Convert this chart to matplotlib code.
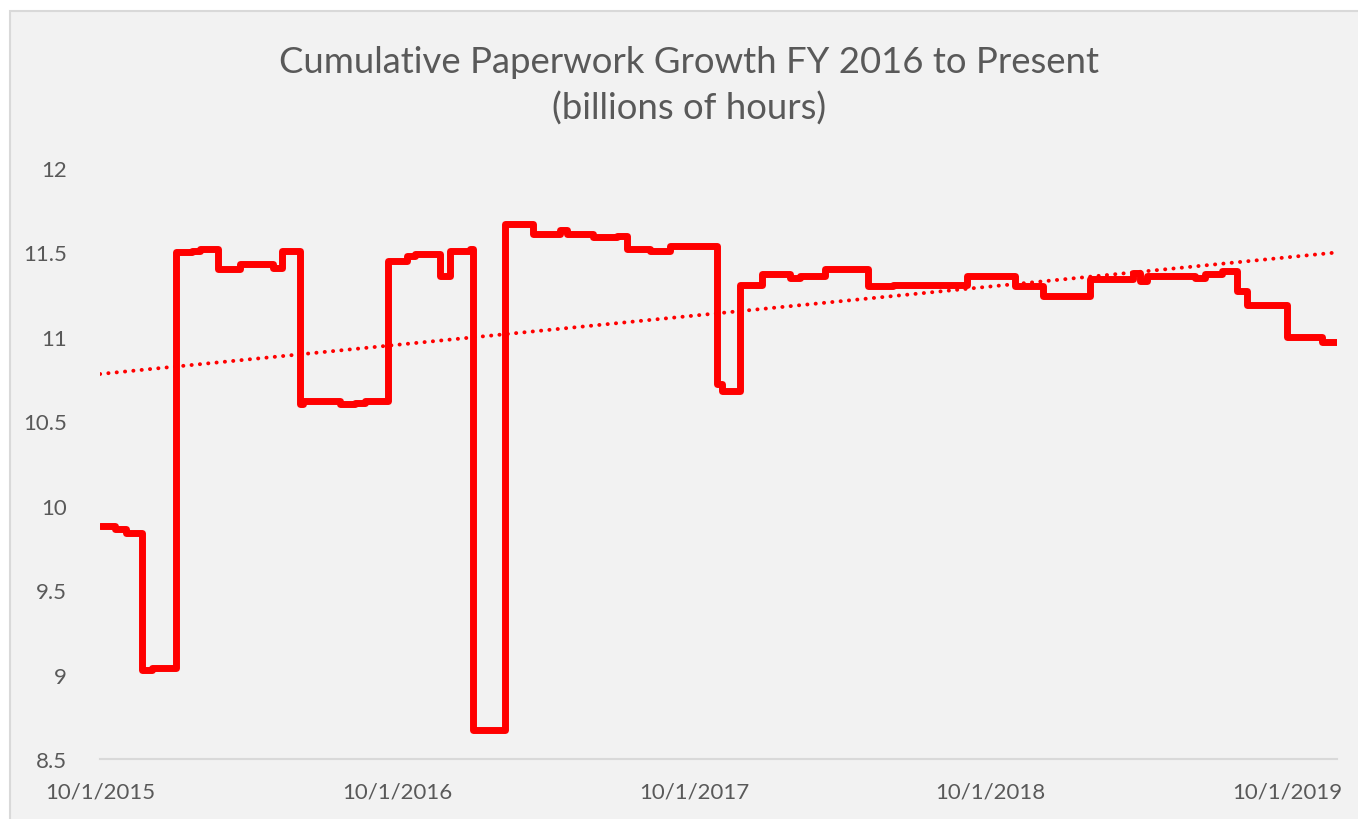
import matplotlib
matplotlib.use("Agg")
import matplotlib.pyplot as plt
import matplotlib.dates as mdates
import matplotlib.patches as mpatches
import numpy as np
import pandas as pd

plt.rcParams['font.family'] = ['Lato', 'DejaVu Sans']

# ---- data (step changes: date -> value, billions of hours) ----
change_dates = [
    "2015-10-01", "2015-10-19", "2015-11-02", "2015-11-22", "2015-12-04",
    "2016-01-03", "2016-01-22", "2016-02-01", "2016-02-23", "2016-03-21",
    "2016-05-01", "2016-05-12", "2016-06-03", "2016-06-07", "2016-07-22",
    "2016-08-10", "2016-08-22", "2016-09-19", "2016-10-13", "2016-10-23",
    "2016-11-22", "2016-12-05", "2016-12-29", "2017-01-02", "2017-02-10",
    "2017-03-17", "2017-04-19", "2017-04-28", "2017-05-30", "2017-06-28",
    "2017-07-10", "2017-08-08", "2017-09-01", "2017-10-29", "2017-11-04",
    "2017-11-26", "2017-12-23", "2018-01-27", "2018-02-08", "2018-03-11",
    "2018-05-03", "2018-06-03", "2018-09-02", "2018-10-31", "2018-12-04",
    "2019-01-31", "2019-03-25", "2019-04-03", "2019-04-11", "2019-06-09",
    "2019-06-22", "2019-07-12", "2019-07-31", "2019-08-12", "2019-09-30",
    "2019-11-12", "2019-12-01",
]
change_values = [
    9.88, 9.86, 9.84, 9.03, 9.04,
    11.50, 11.51, 11.52, 11.40, 11.43,
    11.41, 11.51, 10.60, 10.62, 10.60,
    10.61, 10.62, 11.45, 11.48, 11.49,
    11.36, 11.51, 11.52, 8.67, 11.67,
    11.61, 11.63, 11.61, 11.59, 11.60,
    11.52, 11.51, 11.54, 10.72, 10.68,
    11.31, 11.37, 11.35, 11.36, 11.40,
    11.30, 11.31, 11.36, 11.30, 11.24,
    11.34, 11.38, 11.33, 11.36, 11.35,
    11.37, 11.39, 11.27, 11.19, 11.00,
    10.97, 10.97,
]
# linear trend line
trend_dates = ["2015-10-01", "2019-12-01"]
trend_values = [10.78, 11.50]

y_ticks = [8.5, 9, 9.5, 10, 10.5, 11, 11.5, 12]
y_tick_labels = ["8.5", "9", "9.5", "10", "10.5", "11", "11.5", "12"]
x_tick_dates = ["2015-10-01", "2016-10-01", "2017-10-01", "2018-10-01", "2019-10-01"]
x_tick_labels = ["10/1/2015", "10/1/2016", "10/1/2017", "10/1/2018", "10/1/2019"]

title_line1 = "Cumulative Paperwork Growth FY 2016 to Present"
title_line2 = "(billions of hours)"

# ---- figure ----
W, H = 1358, 820
fig = plt.figure(figsize=(W / 100, H / 100), dpi=100, facecolor="white")

# chart area background with light border
bg = mpatches.Rectangle((10 / W, -0.05), 1.1, 1 - 12 / H + 0.05,
                        transform=fig.transFigure, facecolor="#f2f2f2",
                        edgecolor="#d9d9d9", linewidth=1.5, zorder=-10)
fig.patches.append(bg)

ax = fig.add_axes([100 / W, 1 - 760 / H, (1337 - 100) / W, (760 - 169) / H])
ax.set_facecolor("none")
ax.set_zorder(5)

d = pd.to_datetime(change_dates)
ax.plot(d, change_values, drawstyle="steps-post", color="#ff0000",
        linewidth=5.0, solid_joinstyle="round", solid_capstyle="round", zorder=3)

td = pd.to_datetime(trend_dates)
ax.plot(td, trend_values, color="#ff0000", linewidth=2.8,
        linestyle=(0, (0.05, 2.1)), dash_capstyle="round", zorder=2)

ax.set_ylim(8.5, 12)
ax.set_xlim(pd.Timestamp("2015-10-01"), pd.Timestamp("2019-12-01"))

ax.set_yticks(y_ticks)
ax.set_yticklabels(y_tick_labels)
ax.set_xticks(pd.to_datetime(x_tick_dates))
ax.set_xticklabels(x_tick_labels)

for s in ["top", "right", "left"]:
    ax.spines[s].set_visible(False)
ax.spines["bottom"].set_color("#d9d9d9")
ax.spines["bottom"].set_linewidth(1.5)

ax.tick_params(axis="both", length=0, colors="#595959", labelsize=16)
ax.tick_params(axis="y", pad=24)
ax.tick_params(axis="x", pad=16)

fig.text(689 / W, 1 - 73 / H, title_line1, ha="center", va="baseline",
         fontsize=26.3, color="#595959")
fig.text(689 / W, 1 - 120 / H, title_line2, ha="center", va="baseline",
         fontsize=26.3, color="#595959")

fig.savefig("out.png", dpi=100, facecolor="white")
